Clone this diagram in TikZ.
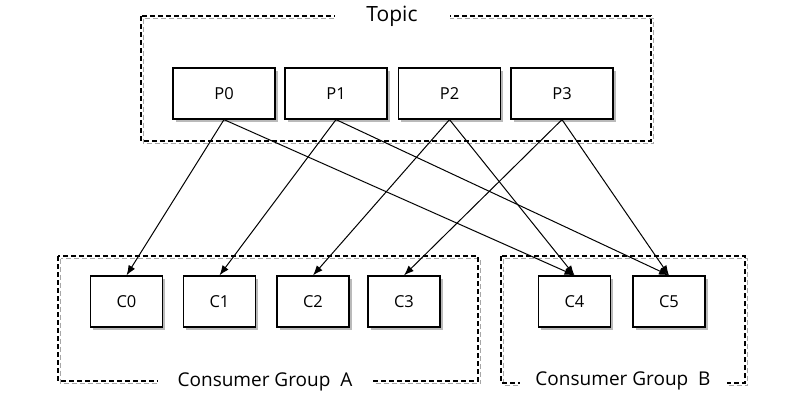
\documentclass[tikz,border=0pt]{standalone}
\usepackage{fontspec}
\setmainfont{Open Sans}
\usetikzlibrary{arrows.meta,shadows}
\begin{document}
\begin{tikzpicture}[x=1pt,y=-1pt,
  box/.style={draw=black,line width=1.2pt,fill=white,minimum height=51pt,inner sep=0pt,font=\fontsize{16.5}{18}\selectfont,
    drop shadow={shadow xshift=2.5pt,shadow yshift=-2.5pt,fill=black!45,opacity=0.6}},
  pbox/.style={box,minimum width=102pt},
  cbox/.style={box,minimum width=72pt},
  grp/.style={draw=black,line width=1.2pt,dash pattern=on 5pt off 3pt},
  grpshadow/.style={draw=black!35,line width=1.1pt,dash pattern=on 5pt off 3pt},
  glabel/.style={fill=white,inner sep=0pt,minimum height=18pt,font=\fontsize{19}{22}\selectfont},
  arr/.style={line width=1pt,-{Latex[length=10pt,width=7.5pt]}}]
\useasboundingbox[fill=white] (0,0) rectangle (800,400);
% group boxes
\draw[grpshadow] (143.5,18.5) rectangle (653.5,143.5);
\draw[grp] (141,16) rectangle (651,141);
\draw[grpshadow] (60.5,258.5) rectangle (480.5,383.5);
\draw[grp] (58,256) rectangle (478,381);
\draw[grpshadow] (503.5,258.5) rectangle (747.5,385.5);
\draw[grp] (501,256) rectangle (745,383);
\node[glabel,minimum width=115pt,font=\fontsize{21}{24}\selectfont] (topic) at (392,16) {Topic};
\node[glabel,minimum width=215pt] (ga) at (265,382) {Consumer Group\ \ A};
\node[glabel,minimum width=207pt] (gb) at (623,381) {Consumer Group\ \ B};
% partitions
\node[pbox] (P0) at (224,93.5) {P0};
\node[pbox] (P1) at (336,93.5) {P1};
\node[pbox] (P2) at (449.5,93.5) {P2};
\node[pbox] (P3) at (562,93.5) {P3};
% consumers
\node[cbox] (C0) at (126.5,301.5) {C0};
\node[cbox] (C1) at (219.5,301.5) {C1};
\node[cbox] (C2) at (313,301.5) {C2};
\node[cbox] (C3) at (404,301.5) {C3};
\node[cbox] (C4) at (574.5,301.5) {C4};
\node[cbox] (C5) at (669,301.5) {C5};
% arrows
\draw[arr] (P0.south) -- (C0.north);
\draw[arr] (P0.south) -- (C4.north);
\draw[arr] (P1.south) -- (C1.north);
\draw[arr] (P1.south) -- (C5.north);
\draw[arr] (P2.south) -- (C2.north);
\draw[arr] (P2.south) -- (C4.north);
\draw[arr] (P3.south) -- (C3.north);
\draw[arr] (P3.south) -- (C5.north);
\end{tikzpicture}
\end{document}
